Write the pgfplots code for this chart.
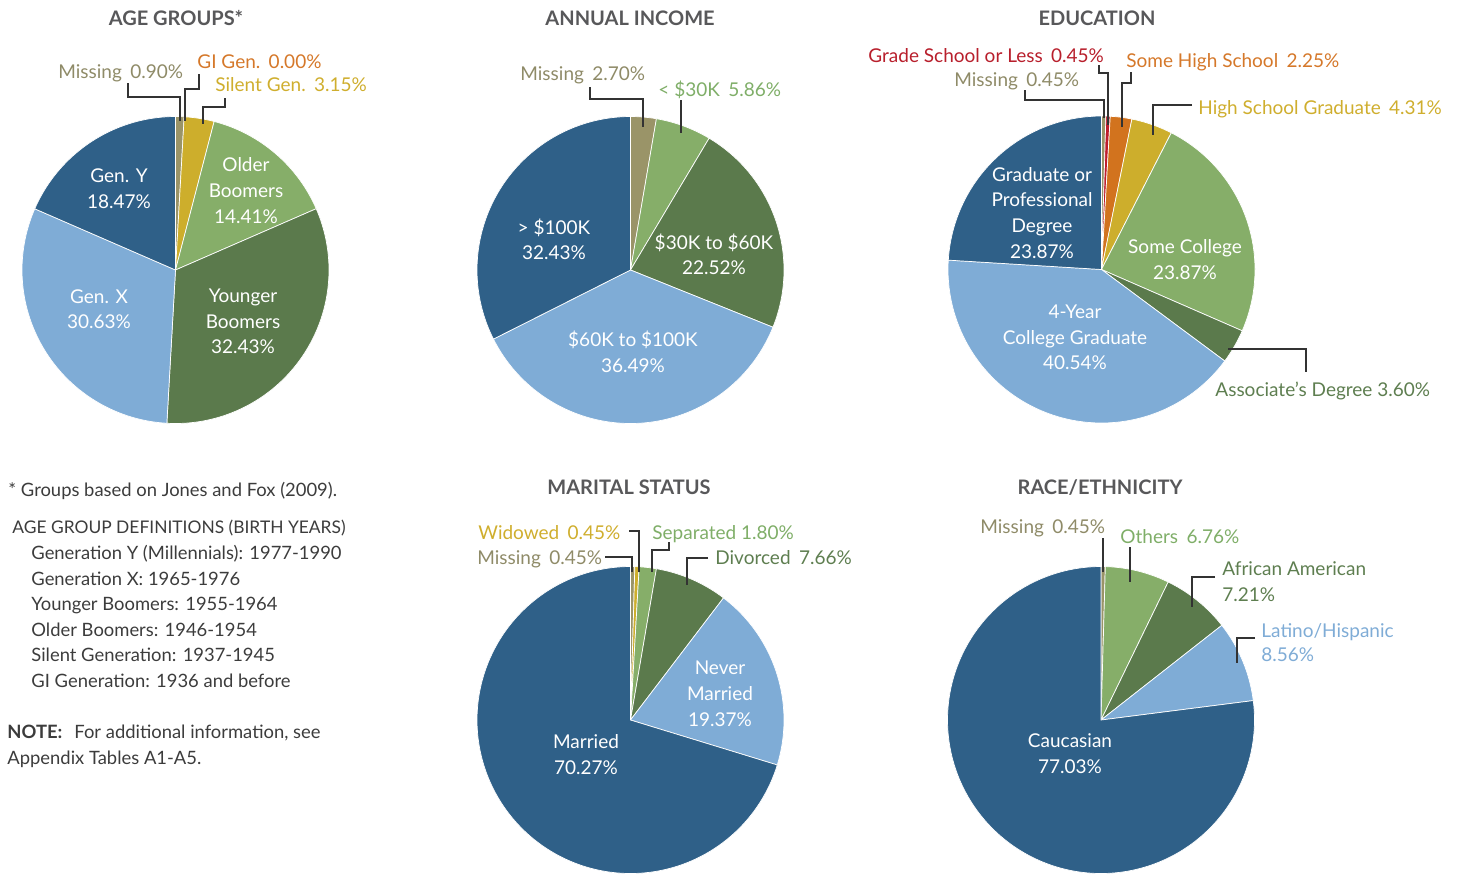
\documentclass[border=0pt]{standalone}
\usepackage{pgfplots}
\usepackage{pgfplotstable}
\pgfplotsset{compat=1.18}
\usepackage{fontspec}
\setmainfont{Lato}

\definecolor{pdblue}{HTML}{2F6088}
\definecolor{plblue}{HTML}{7FACD6}
\definecolor{pdgreen}{HTML}{5B7A4C}
\definecolor{plgreen}{HTML}{86AE69}
\definecolor{pkhaki}{HTML}{9A9468}
\definecolor{pgold}{HTML}{CDAE2C}
\definecolor{porange}{HTML}{D2731E}
\definecolor{pred}{HTML}{BE1E2D}
\definecolor{tkhaki}{HTML}{8F8B68}
\definecolor{tgold}{HTML}{CFAE2E}
\definecolor{torange}{HTML}{D5782A}
\definecolor{tlgreen}{HTML}{7FAE68}
\definecolor{tdgreen}{HTML}{5E7E50}
\definecolor{tlblue}{HTML}{7FACD6}
\definecolor{tred}{HTML}{B81F2C}
\definecolor{titlegray}{HTML}{58585A}
\definecolor{bodygray}{HTML}{3C3C3C}
\definecolor{leadgray}{HTML}{333333}

% ---- data: percentages, clockwise from 12 o'clock ----
\pgfplotstableread{
value color
0.90  pkhaki
0.00  porange
3.15  pgold
14.41 plgreen
32.43 pdgreen
30.63 plblue
18.47 pdblue
}\agetab
\pgfplotstableread{
value color
2.70  pkhaki
5.86  plgreen
22.52 pdgreen
36.49 plblue
32.43 pdblue
}\inctab
\pgfplotstableread{
value color
0.45  pkhaki
0.45  pred
2.25  porange
4.31  pgold
23.87 plgreen
3.60  pdgreen
40.54 plblue
23.87 pdblue
}\edutab
\pgfplotstableread{
value color
0.45  pkhaki
0.45  pgold
1.80  plgreen
7.66  pdgreen
19.37 plblue
70.27 pdblue
}\martab
\pgfplotstableread{
value color
0.45  pkhaki
6.76  plgreen
7.21  pdgreen
8.56  plblue
77.03 pdblue
}\ractab

\newcommand\drawpie[1]{%
  \pgfplotstablegetrowsof{#1}%
  \pgfmathtruncatemacro\plast{\pgfplotsretval-1}%
  \gdef\ptot{0}%
  \pgfplotsforeachungrouped \pidx in {0,...,\plast}{%
    \pgfplotstablegetelem{\pidx}{value}\of#1%
    \pgfmathsetmacro\ptmp{\ptot+\pgfplotsretval}\xdef\ptot{\ptmp}}%
  \pgfmathsetmacro\pscale{360/\ptot}%
  \gdef\pcum{0}%
  \pgfplotsforeachungrouped \pidx in {0,...,\plast}{%
    \pgfplotstablegetelem{\pidx}{value}\of#1\let\pval\pgfplotsretval
    \pgfplotstablegetelem{\pidx}{color}\of#1\let\pcol\pgfplotsretval
    \ifdim\pval pt>0.001pt
      \pgfmathsetmacro\sA{90-\pscale*(\pcum+\pval)}%
      \pgfmathsetmacro\sB{90-\pscale*\pcum}%
      \pgfmathtruncatemacro\sN{max(4,(\sB-\sA)/1.5+2)}%
      \edef\doslice{\noexpand\addplot[fill=\pcol, draw=white, line width=0.35pt, domain=\sA:\sB, samples=\sN]}%
      \doslice ({cos(x)},{sin(x)}) -- (axis cs:0,0) -- cycle;
    \fi
    \pgfmathsetmacro\ptmp{\pcum+\pval}\xdef\pcum{\ptmp}}%
}

\pgfplotsset{pieax/.style={anchor=center, hide axis, scale only axis,
  width=153.5pt, height=153.5pt, xmin=-1, xmax=1, ymin=-1, ymax=1, clip=false}}

\newcommand\gap{\hspace{0.44em}}

\begin{document}
\begin{tikzpicture}
\useasboundingbox (0,0) rectangle (732.5pt,-437pt);

\begin{axis}[pieax, at={(87.75pt,-135pt)}]
\drawpie{\agetab}
\end{axis}
\begin{axis}[pieax, at={(315.25pt,-135pt)}]
\drawpie{\inctab}
\end{axis}
\begin{axis}[pieax, at={(550.75pt,-134.75pt)}]
\drawpie{\edutab}
\end{axis}
\begin{axis}[pieax, at={(315.25pt,-360pt)}]
\drawpie{\martab}
\end{axis}
\begin{axis}[pieax, at={(550.5pt,-360pt)}]
\drawpie{\ractab}
\end{axis}

\begin{scope}[x=0.5pt, y=-0.5pt,
  ttl/.style={anchor=base, font=\bfseries\fontsize{10}{12}\selectfont, text=titlegray},
  lb/.style={anchor=base west, font=\fontsize{9.5}{12}\selectfont, inner sep=0pt},
  il/.style={anchor=base, font=\fontsize{9.5}{12}\selectfont, text=white, inner sep=0pt},
  bd/.style={anchor=base west, font=\fontsize{9.2}{12}\selectfont, text=bodygray, inner sep=0pt},
  ld/.style={draw=leadgray, line width=0.7pt}]
% titles
\node[ttl] at (176,25) {AGE GROUPS*};
\node[ttl] at (630,25) {ANNUAL INCOME};
\node[ttl] at (1097,25) {EDUCATION};
\node[ttl] at (629,494) {MARITAL STATUS};
\node[ttl] at (1100,494) {RACE/ETHNICITY};

% pie 1 labels
\node[lb, text=tkhaki] at (58,78) {Missing\gap 0.90\%};
\node[lb, text=torange] at (197,68) {GI Gen.\gap 0.00\%};
\node[lb, text=tgold] at (215,91) {Silent Gen.\gap 3.15\%};
\draw[ld] (128,83) -- (128,97) -- (180,97) -- (180,121);
\draw[ld] (199,74) -- (199,89) -- (185,89) -- (185,121);
\draw[ld] (225,98) -- (225,107) -- (203,107) -- (203,124);
\node[il] at (119,182) {Gen. Y};
\node[il] at (119,208) {18.47\%};
\node[il] at (246,171) {Older};
\node[il] at (246,197) {Boomers};
\node[il] at (246,223) {14.41\%};
\node[il] at (243,302) {Younger};
\node[il] at (243,328) {Boomers};
\node[il] at (243,353) {32.43\%};
\node[il] at (99,303) {Gen. X};
\node[il] at (99,328) {30.63\%};

% pie 2 labels
\node[lb, text=tkhaki] at (520,80) {Missing\gap 2.70\%};
\node[lb, text=tlgreen] at (658,96) {< \$30K\gap 5.86\%};
\draw[ld] (590,87) -- (590,99) -- (643,99) -- (643,127);
\draw[ld] (681,100) -- (681,133);
\node[il] at (554,234) {> \$100K};
\node[il] at (554,259) {32.43\%};
\node[il] at (714,249) {\$30K to \$60K};
\node[il] at (714,274) {22.52\%};
\node[il] at (633,346) {\$60K to \$100K};
\node[il] at (633,372) {36.49\%};

% pie 3 labels
\node[lb, text=tred] at (868,62) {Grade School or Less\gap 0.45\%};
\node[lb, text=torange] at (1126,67) {Some High School\gap 2.25\%};
\node[lb, text=tkhaki] at (954,86) {Missing\gap 0.45\%};
\node[lb, text=tgold] at (1198,114) {High School Graduate\gap 4.31\%};
\node[lb, text=tdgreen] at (1215,396) {Associate's Degree 3.60\%};
\draw[ld] (1025,90) -- (1025,100) -- (1104,100) -- (1104,118);
\draw[ld] (1099,65) -- (1099,73) -- (1108,73) -- (1108,125);
\draw[ld] (1131,72) -- (1131,83) -- (1122,83) -- (1122,127);
\draw[ld] (1192,105) -- (1153,105) -- (1153,135);
\draw[ld] (1228,349) -- (1306,349) -- (1306,372);
\node[il] at (1042,181) {Graduate or};
\node[il] at (1042,206) {Professional};
\node[il] at (1042,232) {Degree};
\node[il] at (1042,258) {23.87\%};
\node[il] at (1185,253) {Some College};
\node[il] at (1185,279) {23.87\%};
\node[il] at (1075,318) {4-Year};
\node[il] at (1075,344) {College Graduate};
\node[il] at (1075,369) {40.54\%};

% pie 4 labels
\node[lb, text=tgold] at (478,539) {Widowed\gap 0.45\%};
\node[lb, text=tlgreen] at (652,539) {Separated 1.80\%};
\node[lb, text=tkhaki] at (477,564) {Missing\gap 0.45\%};
\node[lb, text=tdgreen] at (715,564) {Divorced\gap 7.66\%};
\draw[ld] (629,531) -- (639,531) -- (639,572);
\draw[ld] (605,557) -- (632,557) -- (632,572);
\draw[ld] (669,542) -- (669,550) -- (652,550) -- (652,572);
\draw[ld] (708,558) -- (687,558) -- (687,585);
\node[il] at (720,674) {Never};
\node[il] at (720,700) {Married};
\node[il] at (720,726) {19.37\%};
\node[il] at (586,748) {Married};
\node[il] at (586,774) {70.27\%};

% pie 5 labels
\node[lb, text=tkhaki] at (980,533) {Missing\gap 0.45\%};
\node[lb, text=tlgreen] at (1120,543) {Others\gap 6.76\%};
\node[lb, text=tdgreen] at (1222,575) {African American};
\node[lb, text=tdgreen] at (1222,601) {7.21\%};
\node[lb, text=tlblue] at (1261,637) {Latino/Hispanic};
\node[lb, text=tlblue] at (1261,661) {8.56\%};
\draw[ld] (1103,538) -- (1103,572);
\draw[ld] (1130,547) -- (1130,582);
\draw[ld] (1215,577) -- (1192,577) -- (1192,607);
\draw[ld] (1255,638) -- (1237,638) -- (1237,663);
\node[il] at (1070,747) {Caucasian};
\node[il] at (1070,773) {77.03\%};

% left text block
\node[bd] at (8,496) {* Groups based on Jones and Fox (2009).};
\node[bd, font=\fontsize{8.7}{12}\selectfont] at (12,533) {AGE GROUP DEFINITIONS (BIRTH YEARS)};
\node[bd] at (31,559) {Generation Y (Millennials): 1977-1990};
\node[bd] at (31,585) {Generation X: 1965-1976};
\node[bd] at (31,610) {Younger Boomers: 1955-1964};
\node[bd] at (31,636) {Older Boomers: 1946-1954};
\node[bd] at (31,661) {Silent Generation: 1937-1945};
\node[bd] at (31,687) {GI Generation: 1936 and before};
\node[bd] at (7,738) {\textbf{NOTE:}\hspace{0.4em} For additional information, see};
\node[bd] at (7,764) {Appendix Tables A1-A5.};
\end{scope}
\end{tikzpicture}
\end{document}
